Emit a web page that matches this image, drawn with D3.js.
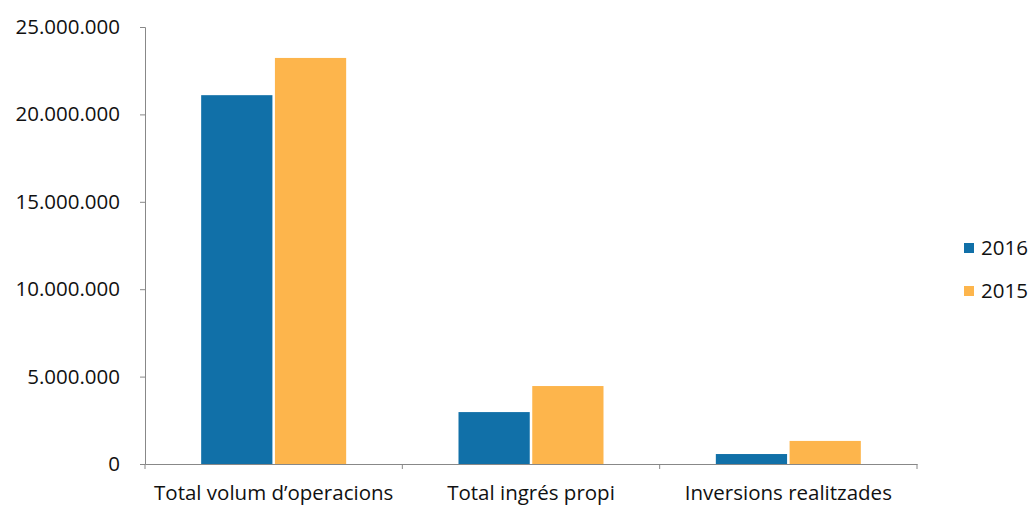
<!DOCTYPE html>
<html><head><meta charset="utf-8">
<script src="https://cdn.jsdelivr.net/npm/d3@7"></script>
<style>body{margin:0;background:#fff}text{font-family:"Open Sans","Liberation Sans",sans-serif;fill:#111}</style>
</head><body><svg id="c" width="1034" height="509"></svg>
<script>
const categories = ["Total volum d\u2019operacions", "Total ingr\u00e9s propi", "Inversions realitzades"];
const seriesNames = ["2016", "2015"];
const values2016 = [21100000, 2970000, 570000];
const values2015 = [23230000, 4460000, 1320000];
const yTicks = [0, 5000000, 10000000, 15000000, 20000000, 25000000];
const colors = ["#1170a8", "#fdb54c"];

(function() {
const svg = d3.select("#c");
const mLeft = 145, mRight = 917, mTop = 27, mBottom = 464;
const fs = "20.5px";
const x = d3.scaleBand().domain(categories).range([mLeft, mRight]).paddingInner(0).paddingOuter(0);
const y = d3.scaleLinear().domain([0, 25000000]).range([mBottom, mTop]);
const fmt = v => d3.format(",")(v).replace(/,/g, ".");
const xs = d3.scaleBand().domain(seriesNames).range([0, 145]).paddingInner(0.034);

const ya = svg.append("g").attr("transform", `translate(${mLeft},0)`)
  .call(d3.axisLeft(y).tickValues(yTicks).tickFormat(fmt).tickSizeOuter(0).tickSize(5).tickPadding(20));
ya.select(".domain").attr("stroke", "#888");
ya.selectAll(".tick line").attr("stroke", "#888");
ya.selectAll("text").style("font-size", fs).attr("fill", "#111");

const data = categories.map((c, i) => [values2016[i], values2015[i]]);
const groups = svg.append("g").selectAll("g").data(categories).join("g")
  .attr("transform", d => `translate(${x(d) + (x.bandwidth() - 145) / 2},0)`);
groups.each(function(c, i) {
  d3.select(this).selectAll("rect").data(seriesNames).join("rect")
    .attr("x", s => xs(s)).attr("width", xs.bandwidth())
    .attr("y", (s, j) => y(data[i][j])).attr("height", (s, j) => mBottom - y(data[i][j]))
    .attr("fill", (s, j) => colors[j]);
});

const xa = svg.append("g").attr("transform", `translate(0,${mBottom})`)
  .call(d3.axisBottom(x).tickSize(0).tickPadding(21));
xa.select(".domain").attr("stroke", "#888");
xa.selectAll("text").style("font-size", fs).attr("fill", "#111");
xa.append("g").selectAll("line").data([mLeft, ...categories.map(c => x(c) + x.bandwidth())]).join("line")
  .attr("x1", d => d).attr("x2", d => d).attr("y1", 0).attr("y2", 5).attr("stroke", "#888");

const lg = svg.append("g").selectAll("g").data(seriesNames).join("g")
  .attr("transform", (d, i) => `translate(964,${248 + i * 43})`);
lg.append("rect").attr("x", 0).attr("y", -5).attr("width", 10).attr("height", 10).attr("fill", (d, i) => colors[i]);
lg.append("text").attr("x", 17).attr("y", 0).attr("dy", "0.35em").style("font-size", fs).text(d => d);
})();
</script></body></html>
